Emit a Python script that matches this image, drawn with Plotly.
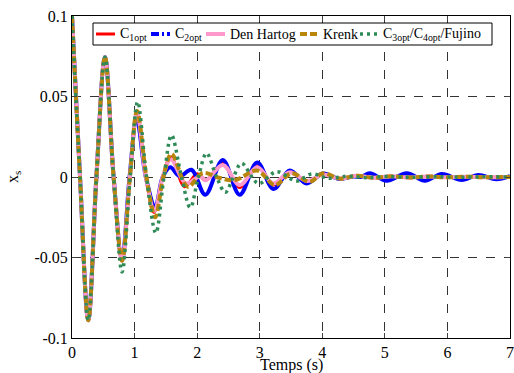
import plotly.graph_objects as go

# Common initial response (all designs overlap)
t_common = [0.0, 0.128, 0.26, 0.39, 0.527, 0.665]
x_common = [0.1, 0.0, -0.089, 0.0, 0.0745, 0.0]

# C1opt (red)
t_c1 = t_common + [0.80, 0.925, 1.04, 1.18, 1.31, 1.45, 1.58, 1.80, 2.00, 2.14, 2.41, 2.68, 2.97, 3.22, 3.48, 3.76, 4.01, 4.28, 4.55, 4.82, 5.1, 5.4, 5.7, 6.0, 6.3, 6.6, 7.0]
x_c1 = x_common + [-0.052, 0.0, 0.040, 0.0, -0.022, 0.0, 0.0125, -0.006, 0.002, -0.002, 0.0085, -0.0065, 0.007, -0.005, 0.003, -0.003, 0.0015, -0.001, 0.0008, -0.0006, 0.0005, -0.0004, 0.0004, -0.0003, 0.0003, -0.0002, 0.0]

# C2opt (blue)
t_c2 = t_common + [0.80, 0.92, 1.035, 1.18, 1.33, 1.45, 1.57, 1.72, 1.91, 2.13, 2.41, 2.68, 2.96, 3.22, 3.48, 3.75, 4.01, 4.27, 4.50, 4.62, 4.76, 5.03, 5.35, 5.64, 5.91, 6.23, 6.49, 6.78, 7.0]
x_c2 = x_common + [-0.051, 0.0, 0.036, 0.0, -0.0184, 0.0, 0.006, 0.0005, 0.0045, -0.011, 0.0105, -0.011, 0.009, -0.0075, 0.004, -0.004, 0.0022, -0.0012, 0.0003, 0.0, 0.0023, -0.0023, 0.0023, -0.0023, 0.0019, -0.0019, 0.0013, -0.0014, 0.0005]

# Den Hartog (pink)
t_dh = t_common + [0.80, 0.925, 1.04, 1.18, 1.32, 1.45, 1.58, 1.82, 2.05, 2.14, 2.41, 2.68, 2.96, 3.22, 3.48, 3.76, 4.01, 4.28, 4.55, 4.82, 5.1, 5.4, 5.7, 6.0, 6.3, 6.6, 7.0]
x_dh = x_common + [-0.052, 0.0, 0.040, 0.0, -0.021, 0.0, 0.011, -0.004, 0.0005, -0.002, 0.0075, -0.005, 0.006, -0.004, 0.003, -0.0025, 0.0015, -0.001, 0.0007, -0.0005, 0.0004, -0.0003, 0.0003, -0.0002, 0.0002, -0.0001, 0.0]

# Krenk (brown)
t_kr = t_common + [0.80, 0.925, 1.04, 1.19, 1.33, 1.46, 1.59, 1.85, 2.09, 2.35, 2.60, 2.96, 3.24, 3.51, 3.80, 4.01, 4.28, 4.55, 4.82, 5.1, 5.4, 5.7, 6.0, 6.3, 6.6, 7.0]
x_kr = x_common + [-0.052, 0.0, 0.041, 0.0, -0.025, 0.0, 0.0143, -0.006, 0.0025, -0.0005, -0.002, 0.004, -0.005, 0.0023, -0.003, 0.0023, -0.001, 0.0008, -0.0005, 0.0004, -0.0003, 0.0003, -0.0002, 0.0002, -0.0001, 0.0]

# C3opt/C4opt/Fujino (green)
t_fu = t_common + [0.80, 0.93, 1.05, 1.19, 1.34, 1.47, 1.59, 1.75, 1.89, 2.02, 2.15, 2.31, 2.45, 2.58, 2.71, 2.98, 3.27, 3.59, 3.83, 4.10, 4.40, 4.70, 5.0, 5.4, 5.8, 6.2, 6.6, 7.0]
x_fu = x_common + [-0.059, 0.0, 0.0467, 0.0, -0.0347, 0.0, 0.026, 0.0, -0.019, 0.0, 0.0147, 0.0, -0.0095, 0.0, 0.0085, -0.004, 0.0033, -0.0025, 0.0019, -0.0008, 0.0005, -0.0004, 0.0003, -0.0002, 0.0002, -0.0001, 0.0001, 0.0]

x_ticks = [0, 1, 2, 3, 4, 5, 6, 7]
y_ticks = [-0.1, -0.05, 0, 0.05, 0.1]
y_tick_labels = ["-0.1", "-0.05", "0", "0.05", "0.1"]

# name, t, x, color, width, curve dash, legend-sample dash
series = [
    ("C<sub>1opt</sub>", t_c1, x_c1, "#ff0000", 3, "solid", "solid"),
    ("C<sub>2opt</sub>", t_c2, x_c2, "#0000ff", 4, "solid", "8px,3px,2px,3px"),
    ("Den Hartog", t_dh, x_dh, "#ff99cc", 4, "solid", "solid"),
    ("Krenk", t_kr, x_kr, "#b8860b", 4, "7px,3px", "7px,3px"),
    ("C<sub>3opt</sub>/C<sub>4opt</sub>/Fujino", t_fu, x_fu, "#2e8b57", 3.5, "3px,4px", "3px,4px"),
]

# plot-area geometry in pixels (for the hand-drawn legend box)
L, R, T, B = 72, 510, 16, 338
W, H = R - L, B - T
def px(xp):
    return (xp - L) / W
def py(yp):
    return (B - yp) / H

# legend layout in pixels: (sample start, sample end, text start)
legend_pos = [(96, 115, 118), (151, 170, 173), (206, 225, 228), (300, 318, 321), (360, 378, 381)]
legend_y = 34

fig = go.Figure()
for name, t, x, color, w, dash, _ in series:
    fig.add_trace(go.Scatter(x=t, y=x, mode="lines", name=name,
                             line=dict(color=color, width=w, dash=dash, shape="spline", smoothing=1.0)))

serif = "Liberation Serif, Times New Roman, serif"

shapes = [dict(type="rect", xref="paper", yref="paper", x0=px(93), x1=px(492), y0=py(45), y1=py(23),
               line=dict(color="black", width=1), fillcolor="white", layer="above")]
annotations = []
for (name, _, _, color, w, _, ldash), (s0, s1, tx) in zip(series, legend_pos):
    shapes.append(dict(type="line", xref="paper", yref="paper", x0=px(s0), x1=px(s1),
                       y0=py(legend_y), y1=py(legend_y), line=dict(color=color, width=w, dash=ldash),
                       layer="above"))
    annotations.append(dict(text=name, x=px(tx), y=py(legend_y), xref="paper", yref="paper",
                            showarrow=False, xanchor="left", yanchor="middle",
                            font=dict(family=serif, size=14, color="black")))

annotations += [
    dict(text="Temps (s)", x=0.5, y=py(365), xref="paper", yref="paper",
         showarrow=False, font=dict(family=serif, size=16), xanchor="center", yanchor="middle"),
    dict(text="x<sub>s</sub>", x=px(13), y=0.5, xref="paper", yref="paper",
         showarrow=False, font=dict(family=serif, size=16), textangle=-90,
         xanchor="center", yanchor="middle"),
]

fig.update_layout(
    width=514, height=373,
    margin=dict(l=L, r=514 - R, t=T, b=373 - B, autoexpand=False),
    paper_bgcolor="white", plot_bgcolor="white",
    font=dict(family=serif, size=16, color="black"),
    showlegend=False,
    xaxis=dict(range=[0, 7], tickvals=x_ticks, ticks="inside", ticklen=5,
               showline=True, linecolor="black", linewidth=1, mirror="ticks",
               showgrid=True, gridcolor="#333333", griddash="dash", gridwidth=1,
               zeroline=False, automargin=False, tickfont=dict(family=serif, size=16)),
    yaxis=dict(range=[-0.1, 0.1], tickvals=y_ticks, ticktext=y_tick_labels,
               ticks="inside", ticklen=5,
               showline=True, linecolor="black", linewidth=1, mirror="ticks",
               showgrid=True, gridcolor="#333333", griddash="dash", gridwidth=1,
               zeroline=False, automargin=False, tickfont=dict(family=serif, size=16)),
    shapes=shapes,
    annotations=annotations,
)

fig.write_html("out.html", config={"displayModeBar": False},
               post_script="document.body.style.margin='0';")
